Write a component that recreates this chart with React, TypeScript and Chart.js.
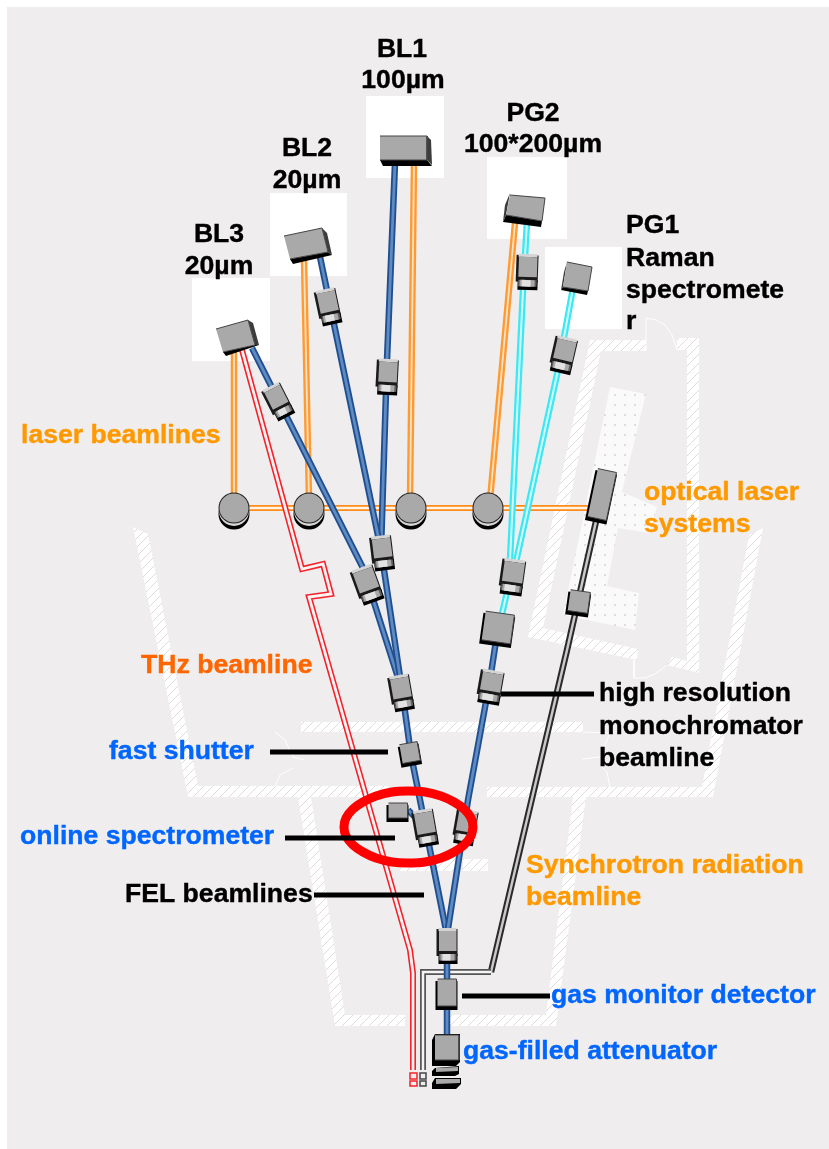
import React, { useEffect, useRef } from "react";
import { Chart, registerables } from "chart.js";

Chart.register(...registerables);

type P = [number, number];

const plane: P[] = [[7, 7], [829, 7], [829, 1149], [7, 1149]];

// hatched walls
const wallLeft: P[] = [[133, 527], [148, 534], [198, 786], [388, 786], [388, 797], [188, 797]];
const wallLower: P[] = [[298, 797], [311, 797], [345, 1015], [405, 1015], [405, 1026], [335, 1026]];
const wallLowerRight: P[] = [[447, 1015], [546, 1015], [573, 797], [586, 797], [556, 1026], [447, 1026]];
const wallMid: P[] = [[301, 722], [583, 722], [583, 732], [301, 732]];
const wallRight: P[] = [[487, 787], [702, 787], [749, 535], [763, 528], [713, 797], [487, 797]];
const wallCentreA: P[] = [[400, 859], [460, 859], [460, 871], [400, 871]];
const wallCentreB: P[] = [[463, 859], [488, 859], [488, 871], [463, 871]];
const roomWall: P[] = [[590, 340], [646, 340], [646, 351], [601, 351], [543, 628], [638, 649], [637, 660], [528, 637]];
const roomWallRight: P[] = [[677, 338], [699, 338], [699, 673], [667, 665], [672, 657], [687, 661], [687, 350], [677, 350]];
const dottedFloor: P[] = [[610, 387], [646, 394], [622, 492], [657, 507], [650, 533], [618, 528], [607, 586], [639, 593], [635, 630], [563, 615]];

// thin white door arcs
const doorTop: P[] = [[646, 350], [646, 318], [656, 320], [665, 325], [672, 335], [677, 350]];
const doorBottom: P[] = [[634, 660], [634, 678], [645, 678], [655, 674], [667, 665]];
const gateLeftA: P[] = [[275, 732], [285, 740], [293, 757], [304, 760]];
const gateLeftB: P[] = [[293, 768], [280, 775], [275, 786]];
const gateRightA: P[] = [[583, 732], [610, 733], [605, 745], [600, 757], [582, 759]];
const gateRightB: P[] = [[600, 765], [607, 772], [610, 787]];

// white backing squares
const squareBL1: P[] = [[366, 96], [444, 96], [444, 178], [366, 178]];
const squareBL2: P[] = [[270, 193], [347, 193], [347, 276], [270, 276]];
const squareBL3: P[] = [[192, 278], [270, 278], [270, 361], [192, 361]];
const squarePG2: P[] = [[487, 157], [567, 157], [567, 239], [487, 239]];
const squarePG1: P[] = [[545, 247], [622, 247], [622, 329], [545, 329]];

// laser beamlines
const laserBL3: P[] = [[234, 352], [234, 500]];
const laserBL2: P[] = [[304, 260], [309, 500]];
const laserBL1: P[] = [[414, 163], [410, 500]];
const laserPG2: P[] = [[515, 223], [490, 500]];
const laserTrunk: P[] = [[234, 508], [591, 508]];

// terahertz line
const thzLine: P[] = [[242, 350], [302, 569], [323, 564], [331, 594], [309, 597], [410, 950], [413, 973], [413, 1070]];

// FEL
const felBL1: P[] = [[395, 163], [387, 360], [381, 550]];
const felBL2: P[] = [[320, 257], [381, 550]];
const felBL3: P[] = [[252, 348], [363, 568], [402, 690]];
const felTrunk: P[] = [[381, 550], [402, 690], [411, 755], [425, 825], [447, 935]];
const felRight: P[] = [[498, 628], [490, 680], [468, 800], [447, 935]];
const felExit: P[] = [[447, 935], [447, 1040]];
const spectroFeed: P[] = [[408, 810], [416, 818]];

// PG lines
const pgBL2: P[] = [[527, 222], [523, 290], [510, 560]];
const pgBL1: P[] = [[573, 288], [558, 370], [516, 562]];
const pgExit: P[] = [[507, 592], [502, 614]];

// synchrotron radiation line
const srUpper: P[] = [[597, 517], [567, 650], [491, 972]];
const srLower: P[] = [[491, 972], [423, 972], [423, 1070]];

const ringEllipse: P[] = [
  [473, 827], [471, 836], [464, 845], [454, 852], [441, 858], [425, 862], [408, 863], [392, 862], [376, 858], [363, 852],
  [353, 845], [346, 836], [344, 827], [346, 818], [353, 809], [363, 802], [376, 796], [392, 792], [408, 791], [425, 792],
  [441, 796], [454, 802], [464, 809], [471, 818], [473, 827], [471, 836],
];

const leaderMono: P[] = [[501, 694], [594, 694]];
const leaderShutter: P[] = [[270, 752], [388, 752]];
const leaderSpectro: P[] = [[285, 838], [395, 838]];
const leaderFel: P[] = [[314, 895], [424, 895]];
const leaderGas: P[] = [[462, 996], [550, 996]];

// focussing optics: centre, tilt, width, length
const cameraX = [278, 328, 387, 527, 563, 382, 367, 401, 425, 465, 447, 512, 490];
const cameraY = [402, 307, 377, 272, 355, 553, 585, 693, 828, 827, 946, 577, 687];
const cameraTilt = [-27, -12, 3, 2, 13, -7, -20, -10, -10, 10, 0, 8, 10];
const cameraWidth = [21, 22, 22, 22, 23, 22, 24, 22, 22, 22, 21, 24, 24];
const cameraLength = [35, 36, 36, 36, 36, 35, 37, 36, 37, 35, 36, 36, 34];

// plain boxes: centre, tilt, width, height
const boxX = [410, 447, 398, 498, 602, 579];
const boxY = [753, 993, 811, 628, 495, 602];
const boxTilt = [-10, 0, 0, 8, 12, 8];
const boxWidth = [18, 19, 19, 29, 19, 20];
const boxHeight = [20, 28, 16, 30, 50, 22];

// end stations
const endBL1 = { face: [[380, 136], [427, 136], [427, 160], [380, 160]] as P[], side: [[427, 136], [431, 140], [432, 165], [427, 160]] as P[], base: [[380, 160], [427, 160], [432, 166], [383, 166]] as P[] };
const endBL2 = { face: [[284, 236], [322, 228], [328, 252], [290, 259]] as P[], side: [[322, 228], [327, 233], [332, 255], [328, 252]] as P[], base: [[290, 259], [328, 252], [332, 255], [293, 264]] as P[] };
const endBL3 = { face: [[216, 329], [248, 320], [255, 345], [223, 352]] as P[], side: [[248, 320], [253, 323], [259, 345], [255, 345]] as P[], base: [[223, 352], [255, 345], [259, 345], [226, 356]] as P[] };
const endPG2 = { face: [[510, 195], [545, 198], [542, 221], [506, 215]] as P[], side: [[510, 193], [506, 215], [503, 222], [505, 205]] as P[], base: [[503, 222], [541, 227], [542, 221], [506, 215]] as P[] };
const endPG1 = { face: [[567, 262], [592, 267], [588, 291], [563, 287]] as P[], side: [[567, 262], [563, 287], [561, 290], [564, 272]] as P[], base: [[561, 290], [587, 295], [588, 291], [563, 287]] as P[] };
const endStations = [endBL1, endBL2, endBL3, endPG2, endPG1];

const attenuatorFace: P[] = [[435, 1035], [459, 1035], [459, 1060], [435, 1060]];
const attenuatorBody: P[] = [[435, 1034], [460, 1034], [460, 1062], [456, 1066], [432, 1066], [432, 1040]];
const plateUpper: P[] = [[435, 1068], [459, 1066], [459, 1074], [455, 1076], [432, 1076], [432, 1071]];
const plateUpperFace: P[] = [[436, 1068], [458, 1067], [458, 1071], [436, 1072]];
const plateLower: P[] = [[435, 1078], [461, 1078], [461, 1084], [456, 1089], [432, 1089], [432, 1083]];
const plateLowerFace: P[] = [[436, 1079], [460, 1079], [460, 1083], [436, 1084]];

const thzMarkerA: P[] = [[410, 1073], [417, 1073], [417, 1079], [410, 1079]];
const thzMarkerB: P[] = [[410, 1081], [417, 1081], [417, 1086], [410, 1086]];
const srMarkerA: P[] = [[420, 1073], [426, 1073], [426, 1079], [420, 1079]];
const srMarkerB: P[] = [[420, 1081], [426, 1081], [426, 1086], [420, 1086]];

const mirrorX = [234, 309, 411, 488];
const mirrorY = [508, 508, 508, 508];

// text: label, x, baseline
const centredLabels: [string, number, number][] = [
  ["BL1", 402, 57], ["100µm", 403, 88], ["BL2", 307, 156], ["20µm", 307, 188],
  ["BL3", 219, 242], ["20µm", 219, 274], ["PG2", 533, 121], ["100*200µm", 533, 152],
];
const blackLabels: [string, number, number][] = [
  ["PG1", 626, 233], ["Raman", 626, 266], ["spectromete", 626, 298], ["r", 626, 329],
  ["FEL beamlines", 125, 902], ["high resolution", 599, 701], ["monochromator", 599, 734], ["beamline", 599, 766],
];
const orangeLabels: [string, number, number][] = [
  ["laser beamlines", 21, 443], ["optical laser", 644, 500], ["systems", 644, 532],
  ["Synchrotron radiation", 526, 873], ["beamline", 526, 905],
];
const thzLabels: [string, number, number][] = [["THz beamline", 141, 673]];
const blueLabels: [string, number, number][] = [
  ["fast shutter", 109, 759], ["online spectrometer", 20, 844],
  ["gas monitor detector", 551, 1003], ["gas-filled attenuator", 463, 1059],
];

const toXY = (pts: P[]) => pts.map(([x, y]) => ({ x, y }));

const shape = (pts: P[], color: any, edge: string = "rgba(0,0,0,0)") => ({
  data: toXY(pts),
  showLine: true,
  fill: "shape",
  backgroundColor: color,
  borderColor: edge,
  borderWidth: 1,
  pointRadius: 0,
  tension: 0,
});

const stroke = (pts: P[], color: string, width: number, extra: any = {}) => ({
  data: toXY(pts),
  showLine: true,
  fill: false,
  borderColor: color,
  borderWidth: width,
  pointRadius: 0,
  tension: 0,
  borderJoinStyle: "miter",
  borderCapStyle: "butt",
  ...extra,
});

const discs = (xs: number[], ys: number[], dy: number, r: number, color: string) => ({
  data: xs.map((x, i) => ({ x, y: ys[i] + dy })),
  showLine: false,
  pointStyle: "circle",
  pointRadius: r,
  pointBackgroundColor: color,
  pointBorderWidth: 0,
});

const local = (cx: number, cy: number, deg: number) => {
  const t = (deg * Math.PI) / 180;
  const c = Math.cos(t);
  const s = Math.sin(t);
  return (u0: number, v0: number, u1: number, v1: number): P[] =>
    ([[u0, v0], [u1, v0], [u1, v1], [u0, v1]] as P[]).map(([u, v]) => [cx + u * c - v * s, cy + u * s + v * c] as P);
};

const camera = (i: number) => {
  const r = local(cameraX[i], cameraY[i], cameraTilt[i]);
  const w = cameraWidth[i] / 2;
  const l = cameraLength[i] / 2;
  return [
    shape(r(-w, -l + 1, w, l - 8), "#1a1a1a"),
    shape(r(-w + 2, l - 10, w, l), "#000000"),
    shape(r(-w + 2, -l, w - 1, -l + 3), "#d4d4d4"),
    shape(r(-w + 2.5, -l + 3, w - 1, l - 13), "#a9a9a9"),
    shape(r(-w + 2.5, l - 10, w - 1, l - 3.5), "#5e5e5e"),
    shape(r(-w + 4, l - 10, w - 3, l - 3.5), "#a8a8a8"),
    shape(r(-w + 6, l - 10, w - 7, l - 3.5), "#e2e2e2"),
  ];
};

const box = (i: number) => {
  const r = local(boxX[i], boxY[i], boxTilt[i]);
  const w = boxWidth[i] / 2;
  const h = boxHeight[i] / 2;
  return [
    shape(r(-w - 2, -h + 2, w + 1, h + 3), "#000000"),
    shape(r(-w, -h, w, h - 1), "#a9a9a9", "#444444"),
  ];
};

const beam = (pts: P[], outer: string, inner: string, a: number, b: number) => [
  stroke(pts, outer, a),
  stroke(pts, inner, b),
];

const FONT = 'bold 26.6px "Liberation Sans", Arial, sans-serif';

const labelPlugin = {
  id: "labels",
  afterDatasetsDraw(chart: any) {
    const { ctx, scales } = chart;
    const put = (rows: [string, number, number][], color: string, align: CanvasTextAlign) => {
      ctx.save();
      ctx.font = FONT;
      ctx.fillStyle = color;
      ctx.strokeStyle = color;
      ctx.lineWidth = 0.4;
      ctx.textAlign = align;
      ctx.textBaseline = "alphabetic";
      rows.forEach(([t, x, y]) => {
        const px = scales.x.getPixelForValue(x);
        const py = scales.y.getPixelForValue(y);
        ctx.fillText(t, px, py);
        ctx.strokeText(t, px, py);
      });
      ctx.restore();
    };
    put(centredLabels, "#000000", "center");
    put(blackLabels, "#000000", "left");
    put(orangeLabels, "#FF9900", "left");
    put(thzLabels, "#FF6600", "left");
    put(blueLabels, "#0066FF", "left");
  },
};

function makeHatch() {
  const c = document.createElement("canvas");
  c.width = 9;
  c.height = 9;
  const g = c.getContext("2d")!;
  g.fillStyle = "#ffffff";
  g.fillRect(0, 0, 9, 9);
  g.strokeStyle = "#dcdcdc";
  g.lineWidth = 1;
  g.beginPath();
  g.moveTo(-1, 10);
  g.lineTo(10, -1);
  g.stroke();
  return g.createPattern(c, "repeat")!;
}

function makeDots() {
  const c = document.createElement("canvas");
  c.width = 10;
  c.height = 10;
  const g = c.getContext("2d")!;
  g.fillStyle = "#fbfafa";
  g.fillRect(0, 0, 10, 10);
  g.fillStyle = "#dedcdd";
  g.fillRect(4, 4, 2, 2);
  return g.createPattern(c, "repeat")!;
}

export default function App() {
  const ref = useRef<HTMLCanvasElement>(null);

  useEffect(() => {
    const hatch = makeHatch();
    const dots = makeDots();
    const BLUE = "#1f4f92";
    const BLUE_IN = "#5f8bc0";
    const CYAN = "#3ce8f2";
    const CYAN_IN = "#d4fdff";
    const ORANGE = "#ff9a33";
    const ORANGE_IN = "#fde3c4";

    const painted: any[] = [
      shape(plane, "#EFEDEE"),
      ...[wallLeft, wallLower, wallLowerRight, wallMid, wallRight, wallCentreA, wallCentreB, roomWall, roomWallRight].map((w) => shape(w, hatch)),
      shape(dottedFloor, dots),
      ...[doorTop, doorBottom, gateLeftA, gateLeftB, gateRightA, gateRightB].map((d) => stroke(d, "#ffffff", 1)),
      ...[squareBL1, squareBL2, squareBL3, squarePG2, squarePG1].map((s) => shape(s, "#ffffff")),

      ...[laserBL3, laserBL2, laserBL1, laserPG2].flatMap((l) => beam(l, ORANGE, ORANGE_IN, 6.5, 1.8)),
      ...beam(laserTrunk, "#ff8c1a", "#fff3e4", 6, 2.5),

      ...beam(thzLine, "#f4222a", "#fff2f2", 6, 2.8),

      ...beam(srUpper, "#2a2a2a", "#c9c9c9", 6.5, 2.5),
      ...beam(srLower, "#555555", "#f4f4f4", 6, 2.5),

      ...[pgBL2, pgBL1, pgExit].flatMap((l) => beam(l, CYAN, CYAN_IN, 6.5, 2)),
      ...[felBL1, felBL2, felBL3, felTrunk, felRight, felExit, spectroFeed].flatMap((l) => beam(l, BLUE, BLUE_IN, 6.5, 2.8)),

      ...endStations.flatMap((e) => [shape(e.base, "#000000"), shape(e.side, "#3c3c3c"), shape(e.face, "#a9a9a9", "#444444")]),

      ...cameraX.flatMap((_, i) => camera(i)),
      ...boxX.flatMap((_, i) => box(i)),

      shape(attenuatorBody, "#000000"),
      shape(attenuatorFace, "#a9a9a9", "#444444"),
      shape(plateUpper, "#000000"),
      shape(plateUpperFace, "#a9a9a9"),
      shape(plateLower, "#000000"),
      shape(plateLowerFace, "#a9a9a9"),

      ...[thzMarkerA, thzMarkerB].map((m) => stroke([...m, m[0], m[1]], "#f4222a", 1.5)),
      ...[srMarkerA, srMarkerB].map((m) => stroke([...m, m[0], m[1]], "#444444", 1.5)),

      discs(mirrorX, mirrorY, 6, 15.5, "#000000"),
      discs(mirrorX, mirrorY, 3, 15, "#d8d8d8"),
      discs(mirrorX, mirrorY, 0, 15.5, "#222222"),
      discs(mirrorX, mirrorY, 0, 14.5, "#a9a9a9"),

      stroke(ringEllipse, "#ff0000", 9, { tension: 0.4, borderJoinStyle: "round" }),

      ...[leaderMono, leaderShutter, leaderSpectro, leaderFel, leaderGas].map((l) => stroke(l, "#000000", 5)),
    ];

    const chart = new Chart(ref.current!, {
      type: "scatter",
      data: { datasets: painted.reverse() },
      options: {
        animation: false,
        responsive: false,
        events: [],
        layout: { padding: 0, autoPadding: false },
        plugins: { legend: { display: false }, tooltip: { enabled: false }, title: { display: false } },
        scales: {
          x: { type: "linear", min: 0, max: 829, display: false },
          y: { type: "linear", min: 0, max: 1149, reverse: true, display: false },
        },
      },
      plugins: [labelPlugin],
    } as any);
    return () => chart.destroy();
  }, []);

  return (
    <div style={{ position: "absolute", left: 0, top: 0, width: 829, height: 1149, background: "#ffffff" }}>
      <canvas ref={ref} width={829} height={1149} style={{ display: "block" }} />
    </div>
  );
}
